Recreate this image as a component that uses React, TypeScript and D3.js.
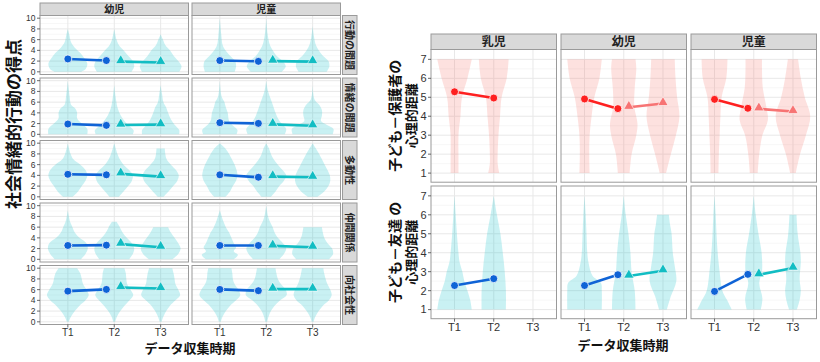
import React from 'react';
import * as d3 from 'd3';

// カテゴリ
const times = ['T1', 'T2', 'T3'];
const ageLeft = ['幼児', '児童'];
const scaleNames = ['行動の問題', '情緒の問題', '多動性', '仲間関係', '向社会性'];
const ageRight = ['乳児', '幼児', '児童'];
const leftTicks = [0, 2, 4, 6, 8, 10];
const rightTicks = [1, 2, 3, 4, 5, 6, 7];

// 平均値  [row][col] -> [T1, T2] (circle) / [T2, T3] (triangle)
const leftDotMeans = [
  [[2.4, 2.1], [2.1, 1.95]],
  [[1.92, 1.67], [2.17, 2.04]],
  [[4.2, 4.1], [4.1, 3.65]],
  [[2.58, 2.64], [2.58, 2.58]],
  [[5.72, 6.04], [6.04, 5.8]],
];
const leftTriMeans = [
  [[1.9, 1.75], [2.0, 1.9]],
  [[1.73, 1.8], [1.86, 1.6]],
  [[4.28, 3.77], [3.77, 3.65]],
  [[2.83, 2.26], [2.5, 2.26]],
  [[6.4, 6.2], [6.1, 6.1]],
];

// violin profiles: [score, half width as share of the step between T's]
const vioBehavior = [
  [
    [[0, 0.27], [0.5, 0.38], [1.5, 0.42], [2.5, 0.36], [3.5, 0.27], [4.5, 0.15], [5.5, 0.07], [7, 0.03], [8, 0]],
    [[0, 0.37], [1, 0.43], [2, 0.4], [3, 0.3], [4, 0.2], [5, 0.1], [6, 0.05], [8, 0]],
    [[0, 0.4], [1, 0.45], [2, 0.38], [3, 0.28], [4, 0.2], [5, 0.1], [6, 0.05], [7, 0]],
  ],
  [
    [[0, 0.32], [1, 0.35], [2, 0.33], [3, 0.22], [4, 0.12], [5, 0.06], [7, 0.03], [10, 0]],
    [[0, 0.33], [1, 0.42], [2, 0.35], [3, 0.22], [4, 0.14], [5, 0.08], [7, 0.03], [10, 0]],
    [[0, 0.3], [1, 0.36], [2, 0.34], [3, 0.22], [4, 0.13], [5, 0.07], [6.5, 0.03], [8.5, 0]],
  ],
];
const vioEmotion = [
  [
    [[0, 0.42], [1, 0.42], [2, 0.3], [3, 0.2], [4, 0.2], [4.8, 0.16], [5.5, 0.07], [7, 0.04], [10, 0]],
    [[0, 0.4], [0.7, 0.42], [1.5, 0.33], [2.5, 0.22], [3.5, 0.14], [5, 0.07], [7, 0.03], [9.2, 0]],
    [[0, 0.4], [0.8, 0.4], [1.8, 0.3], [2.8, 0.22], [4, 0.16], [5, 0.12], [6, 0.06], [7.5, 0.03], [9.2, 0]],
  ],
  [
    [[0, 0.36], [0.8, 0.38], [1.5, 0.3], [2.5, 0.2], [4, 0.17], [5, 0.13], [6, 0.1], [7, 0.04], [10, 0]],
    [[0, 0.4], [1, 0.43], [2, 0.33], [3, 0.25], [4, 0.2], [5, 0.16], [6.5, 0.1], [8, 0.04], [10, 0]],
    [[0, 0.43], [1, 0.45], [1.8, 0.3], [2.5, 0.18], [3.5, 0.2], [4.5, 0.2], [5.5, 0.14], [6.5, 0.04], [9.2, 0]],
  ],
];
const vioHyper = [
  [
    [[0, 0.1], [1, 0.22], [2, 0.3], [3, 0.38], [4, 0.42], [5, 0.38], [6, 0.27], [7, 0.12], [8, 0.06], [10, 0]],
    [[0, 0.1], [1, 0.2], [2, 0.3], [3, 0.38], [4, 0.4], [5, 0.32], [6, 0.2], [7, 0.12], [8, 0.07], [10, 0]],
    [[0, 0.06], [1, 0.17], [2, 0.27], [3, 0.36], [4, 0.39], [5, 0.33], [6, 0.22], [7, 0.13], [8, 0.1], [9, 0.09]],
  ],
  [
    [[0, 0.12], [1, 0.22], [2, 0.28], [3, 0.35], [4, 0.38], [5, 0.36], [6, 0.32], [7, 0.26], [8, 0.2], [9, 0.12], [10, 0]],
    [[0, 0.1], [1, 0.2], [2, 0.28], [3, 0.38], [4, 0.43], [5, 0.35], [6, 0.25], [7, 0.16], [8, 0.1], [9, 0.06], [10, 0]],
    [[0, 0.1], [1, 0.25], [2, 0.34], [3, 0.38], [4, 0.37], [5, 0.32], [6, 0.26], [7, 0.2], [8, 0.14], [9, 0.07], [10, 0]],
  ],
];
const vioPeer = [
  [
    [[0, 0.28], [1, 0.38], [2, 0.43], [3, 0.4], [4, 0.25], [5, 0.15], [6, 0.1], [7, 0.05], [9.2, 0]],
    [[0, 0.32], [1, 0.4], [2, 0.43], [3, 0.38], [4, 0.27], [5, 0.18], [6, 0.12], [7, 0.05]],
    [[0, 0.25], [1, 0.38], [2, 0.43], [3, 0.38], [4, 0.3], [5, 0.22], [6, 0.16]],
  ],
  [
    [[0, 0.3], [0.8, 0.39], [1.5, 0.3], [2.2, 0.35], [3, 0.3], [4, 0.25], [5, 0.2], [6, 0.13], [7, 0.08], [9.2, 0]],
    [[0, 0.28], [1, 0.38], [2, 0.43], [3, 0.36], [4, 0.25], [5, 0.18], [6, 0.14], [7, 0.08], [8, 0.04], [10, 0]],
    [[0, 0.35], [1, 0.44], [2, 0.42], [3, 0.32], [4, 0.25], [5, 0.22], [6, 0.2]],
  ],
];
const vioProsocial = [
  [
    [[0, 0.02], [1, 0.07], [2, 0.15], [3, 0.25], [4, 0.38], [5, 0.45], [6, 0.4], [7, 0.33], [8, 0.3], [9, 0.27], [10, 0.2]],
    [[0, 0.02], [1, 0.06], [2, 0.13], [3, 0.22], [4, 0.33], [5, 0.41], [6, 0.35], [7, 0.28], [8, 0.26], [9, 0.25], [10, 0.22]],
    [[0, 0.02], [1, 0.06], [2, 0.12], [3, 0.2], [4, 0.32], [5, 0.42], [6, 0.38], [7, 0.32], [8, 0.3], [9, 0.28], [10, 0.25]],
  ],
  [
    [[0, 0.02], [1, 0.06], [2, 0.13], [3, 0.22], [4, 0.35], [5, 0.44], [6, 0.4], [7, 0.32], [8, 0.28], [9, 0.27], [10, 0.25]],
    [[0, 0.02], [1, 0.05], [2, 0.1], [3, 0.18], [4, 0.3], [5, 0.44], [6, 0.42], [7, 0.32], [8, 0.25], [9, 0.22], [10, 0.2]],
    [[0, 0.02], [1, 0.06], [2, 0.13], [3, 0.22], [4, 0.35], [5, 0.41], [6, 0.38], [7, 0.32], [8, 0.28], [9, 0.25], [10, 0.23]],
  ],
];
const leftViolins = [vioBehavior, vioEmotion, vioHyper, vioPeer, vioProsocial];

// 右: 子ども－保護者 / 子ども－友達
const parentDot = [[5.29, 4.96], [4.91, 4.4], [4.89, 4.42]];
const parentTri = [null, [4.47, 4.67], [4.39, 4.25]];
const friendDot = [[2.27, 2.63], [2.27, 2.84], [1.96, 2.86]];
const friendTri = [null, [2.77, 3.05], [2.84, 3.19]];
const vioParent = [
  [
    [[1, 0.1], [2, 0.1], [3, 0.1], [4, 0.15], [5, 0.19], [6, 0.33], [7, 0.44]],
    [[1, 0.14], [1.5, 0.1], [2, 0.1], [3, 0.12], [4, 0.16], [5, 0.2], [6, 0.33], [7, 0.38]],
  ],
  [
    [[1, 0.13], [2, 0.12], [3, 0.13], [4, 0.18], [5, 0.25], [6, 0.38], [7, 0.44]],
    [[1, 0.15], [2, 0.2], [3, 0.32], [3.6, 0.35], [4.5, 0.27], [5.5, 0.28], [6.5, 0.32], [7, 0.3]],
    [[1, 0.08], [2, 0.2], [3, 0.33], [4, 0.42], [5, 0.36], [6, 0.32], [7, 0.3]],
  ],
  [
    [[1, 0.1], [2, 0.11], [3, 0.13], [4, 0.15], [5, 0.18], [6, 0.3], [7, 0.33]],
    [[1, 0.1], [2, 0.14], [3, 0.22], [3.8, 0.36], [4.5, 0.32], [5.5, 0.23], [6.5, 0.21], [7, 0.21]],
    [[1, 0.07], [2, 0.18], [3, 0.33], [4, 0.44], [5, 0.3], [6, 0.2], [7, 0.13]],
  ],
];
const vioFriend = [
  [
    [[1, 0.44], [1.5, 0.4], [2, 0.33], [2.5, 0.25], [3, 0.2], [3.5, 0.13], [4, 0.1], [5, 0.06], [6, 0.03], [7, 0]],
    [[1, 0.31], [2, 0.31], [3, 0.28], [4, 0.23], [5, 0.17], [6, 0.08], [7, 0]],
  ],
  [
    [[1, 0.44], [2, 0.44], [2.4, 0.42], [2.8, 0.2], [3.5, 0.1], [4, 0.07], [5, 0.05], [6, 0.03], [7, 0]],
    [[1, 0.3], [2, 0.28], [3, 0.2], [4, 0.17], [5, 0.12], [6, 0.05], [7, 0]],
    [[1, 0.1], [1.7, 0.2], [2.5, 0.34], [3.3, 0.3], [4, 0.25], [5, 0.22], [5.5, 0.18], [6, 0.15]],
  ],
  [
    [[1, 0.44], [1.5, 0.32], [2, 0.2], [3, 0.13], [4, 0.08], [5, 0.05], [6, 0.03], [7, 0]],
    [[1, 0.18], [1.6, 0.22], [2.4, 0.14], [3, 0.21], [4, 0.2], [5, 0.12], [6, 0.05], [7, 0]],
    [[1, 0.1], [1.5, 0.17], [2, 0.2], [2.6, 0.17], [3.5, 0.2], [4, 0.19], [5, 0.12], [6, 0.09]],
  ],
];

const CJK = '"Noto Sans CJK JP", sans-serif';
const LAT = '"Liberation Sans", Arial, sans-serif';
const BORDER = '#9a9a9a';
const STRIP = '#d9d9d9';
const CYAN_FILL = '#00BFC4';
const RED_FILL = '#F8766D';
const BLUE = '#0f63d6';
const CYAN = '#12bdc3';
const RED = '#fe2020';
const PINK = '#f77474';

type Profile = number[][];

function Panel(props: any) {
  const { x, y, w, h, domain, majors, minors, violins, dot, tri, fill, dotColor, triColor, dodge, fillOpacity } = props;
  const xs = d3.scalePoint<string>().domain(times).range([0, w]).padding(0.6);
  const ys = d3.scaleLinear().domain(domain).range([h, 0]);
  const step = xs.step();
  const area = d3
    .area<number[]>()
    .y((d) => ys(d[0]))
    .x0((d) => -d[1] * step)
    .x1((d) => d[1] * step)
    .curve(d3.curveCatmullRom.alpha(0.5));
  const dotX = [xs('T1')!, xs('T2')! + (tri ? dodge[0] * step : 0)];
  const triX = [xs('T2')! + dodge[1] * step, xs('T3')!];
  const tri3 = d3.symbol(d3.symbolTriangle, 46)()!;
  return (
    <g transform={`translate(${x},${y})`}>
      <rect width={w} height={h} fill="#fff" />
      {minors.map((m: number) => (
        <line key={'mi' + m} x1={0} x2={w} y1={ys(m)} y2={ys(m)} stroke="#f2f2f2" strokeWidth={0.6} />
      ))}
      {majors.map((m: number) => (
        <line key={'ma' + m} x1={0} x2={w} y1={ys(m)} y2={ys(m)} stroke="#e8e8e8" strokeWidth={1} />
      ))}
      {times.map((t) => (
        <line key={t} x1={xs(t)} x2={xs(t)} y1={0} y2={h} stroke="#e8e8e8" strokeWidth={1} />
      ))}
      {violins.map((p: Profile, i: number) => (
        <path
          key={'v' + i}
          transform={`translate(${xs(times[i])},0)`}
          d={area(p) || ''}
          fill={fill}
          fillOpacity={fillOpacity}
        />
      ))}
      {tri && (
        <g>
          <line x1={triX[0]} x2={triX[1]} y1={ys(tri[0])} y2={ys(tri[1])} stroke={triColor} strokeWidth={2.6} />
          {tri.map((v: number, i: number) => (
            <path key={'t' + i} d={tri3} transform={`translate(${triX[i]},${ys(v) - 1})`} fill={triColor} stroke="#fff" strokeWidth={0.6} />
          ))}
        </g>
      )}
      <line x1={dotX[0]} x2={dotX[1]} y1={ys(dot[0])} y2={ys(dot[1])} stroke={dotColor} strokeWidth={2.6} />
      {dot.map((v: number, i: number) => (
        <circle key={'d' + i} cx={dotX[i]} cy={ys(v)} r={4} fill={dotColor} stroke="#fff" strokeWidth={0.8} />
      ))}
      <rect width={w} height={h} fill="none" stroke={BORDER} strokeWidth={1} />
    </g>
  );
}

function YAxis({ x, y, h, domain, ticks, size }: any) {
  const ys = d3.scaleLinear().domain(domain).range([h, 0]);
  return (
    <g transform={`translate(${x},${y})`}>
      {ticks.map((t: number) => (
        <g key={t} transform={`translate(0,${ys(t)})`}>
          <line x1={-3} x2={0} stroke="#444" strokeWidth={0.8} />
          <text x={-4.5} dy="0.35em" textAnchor="end" fontSize={size} fontFamily={LAT} fill="#333">
            {t}
          </text>
        </g>
      ))}
    </g>
  );
}

function XAxis({ x, y, w, size, off }: any) {
  const xs = d3.scalePoint<string>().domain(times).range([0, w]).padding(0.6);
  return (
    <g transform={`translate(${x},${y})`}>
      {times.map((t) => (
        <g key={t} transform={`translate(${xs(t)},0)`}>
          <line y1={0} y2={3} stroke="#444" strokeWidth={0.8} />
          <text y={off} textAnchor="middle" fontSize={size} fontFamily={LAT} fill="#333">
            {t}
          </text>
        </g>
      ))}
    </g>
  );
}

export default function App() {
  // 左の図
  const L = { x0: 40, w: 148.5, gap: 3.5, y0: 15.5, h: 59, pitch: 62.5 };
  const leftDomain = [-0.5, 10.5];
  // 右の図
  const R = { x0: 431, w: 125.5, pitch: 130, y1: 49.5, y2: 186, h: 132.7 };
  const rightDomain = [0.52, 7.52];

  return (
    <svg width={820} height={362} style={{ position: 'absolute', left: 0, top: 0, background: '#fff' }}>
      <rect width={820} height={362} fill="#fff" />
      {/* left chart */}
      {ageLeft.map((a, c) => {
        const px = L.x0 + c * (L.w + L.gap);
        return (
          <g key={a}>
            <rect x={px} y={3} width={L.w} height={12.5} fill={STRIP} stroke={BORDER} />
            <text x={px + L.w / 2} y={13} textAnchor="middle" fontSize={10} fontWeight="bold" fontFamily={CJK} fill="#222">
              {a}
            </text>
            {scaleNames.map((s, r) => (
              <Panel
                key={s}
                x={px}
                y={L.y0 + r * L.pitch}
                w={L.w}
                h={L.h}
                domain={leftDomain}
                majors={leftTicks}
                minors={[1, 3, 5, 7, 9]}
                violins={leftViolins[r][c]}
                dot={leftDotMeans[r][c]}
                tri={leftTriMeans[r][c]}
                fill={CYAN_FILL}
                fillOpacity={0.21}
                dotColor={BLUE}
                triColor={CYAN}
                dodge={[-0.17, 0.14]}
              />
            ))}
            <XAxis x={px} y={L.y0 + 4 * L.pitch + L.h} w={L.w} size={10} off={11.5} />
          </g>
        );
      })}
      {scaleNames.map((s, r) => {
        const py = L.y0 + r * L.pitch;
        const sx = L.x0 + 2 * L.w + L.gap + 2;
        return (
          <g key={s}>
            <YAxis x={L.x0} y={py} h={L.h} domain={leftDomain} ticks={leftTicks} size={8.5} />
            <rect x={sx} y={py} width={14.5} height={L.h} fill={STRIP} stroke={BORDER} />
            <text
              transform={`translate(${sx + 7.25},${py + L.h / 2}) rotate(90)`}
              dy="0.35em"
              textAnchor="middle"
              fontSize={10}
              fontWeight="bold"
              fontFamily={CJK}
              fill="#222"
            >
              {s}
            </text>
          </g>
        );
      })}
      <text
        transform={`translate(14,124) rotate(-90)`}
        dy="0.36em"
        textAnchor="middle"
        fontSize={17}
        fontWeight="bold"
        fontFamily={CJK}
        fill="#111"
      >
        社会情緒的行動の得点
      </text>
      <text x={190} y={353} textAnchor="middle" fontSize={13} fontWeight="bold" fontFamily={CJK} fill="#111">
        データ収集時期
      </text>

      {/* right chart */}
      {ageRight.map((a, c) => {
        const px = R.x0 + c * R.pitch;
        return (
          <g key={a}>
            <rect x={px} y={34} width={R.w} height={15.5} fill={STRIP} stroke={BORDER} />
            <text x={px + R.w / 2} y={46} textAnchor="middle" fontSize={12} fontWeight="bold" fontFamily={CJK} fill="#222">
              {a}
            </text>
            <Panel
              x={px}
              y={R.y1}
              w={R.w}
              h={R.h}
              domain={rightDomain}
              majors={rightTicks}
              minors={[1.5, 2.5, 3.5, 4.5, 5.5, 6.5]}
              violins={vioParent[c]}
              dot={parentDot[c]}
              tri={parentTri[c]}
              fill={RED_FILL}
              fillOpacity={0.22}
              dotColor={RED}
              triColor={PINK}
              dodge={[-0.15, 0.13]}
            />
            <Panel
              x={px}
              y={R.y2}
              w={R.w}
              h={R.h}
              domain={rightDomain}
              majors={rightTicks}
              minors={[1.5, 2.5, 3.5, 4.5, 5.5, 6.5]}
              violins={vioFriend[c]}
              dot={friendDot[c]}
              tri={friendTri[c]}
              fill={CYAN_FILL}
              fillOpacity={0.21}
              dotColor={BLUE}
              triColor={CYAN}
              dodge={[-0.15, 0.13]}
            />
            <XAxis x={px} y={R.y2 + R.h} w={R.w} size={11} off={12} />
          </g>
        );
      })}
      <YAxis x={R.x0} y={R.y1} h={R.h} domain={rightDomain} ticks={rightTicks} size={11} />
      <YAxis x={R.x0} y={R.y2} h={R.h} domain={rightDomain} ticks={rightTicks} size={11} />
      {[
        { cy: R.y1 + R.h / 2, l1: '子ども－保護者の' },
        { cy: R.y2 + R.h / 2, l1: '子ども－友達 の' },
      ].map((t) => (
        <g key={t.l1} transform={`translate(0,${t.cy})`} fontFamily={CJK} fontWeight="bold" fill="#111" textAnchor="middle">
          <text transform="translate(395,0) rotate(-90)" dy="0.35em" fontSize={14}>
            {t.l1}
          </text>
          <text transform="translate(411,0) rotate(-90)" dy="0.35em" fontSize={13}>
            心理的距離
          </text>
        </g>
      ))}
      <text x={623} y={349.5} textAnchor="middle" fontSize={13} fontWeight="bold" fontFamily={CJK} fill="#111">
        データ収集時期
      </text>
    </svg>
  );
}
